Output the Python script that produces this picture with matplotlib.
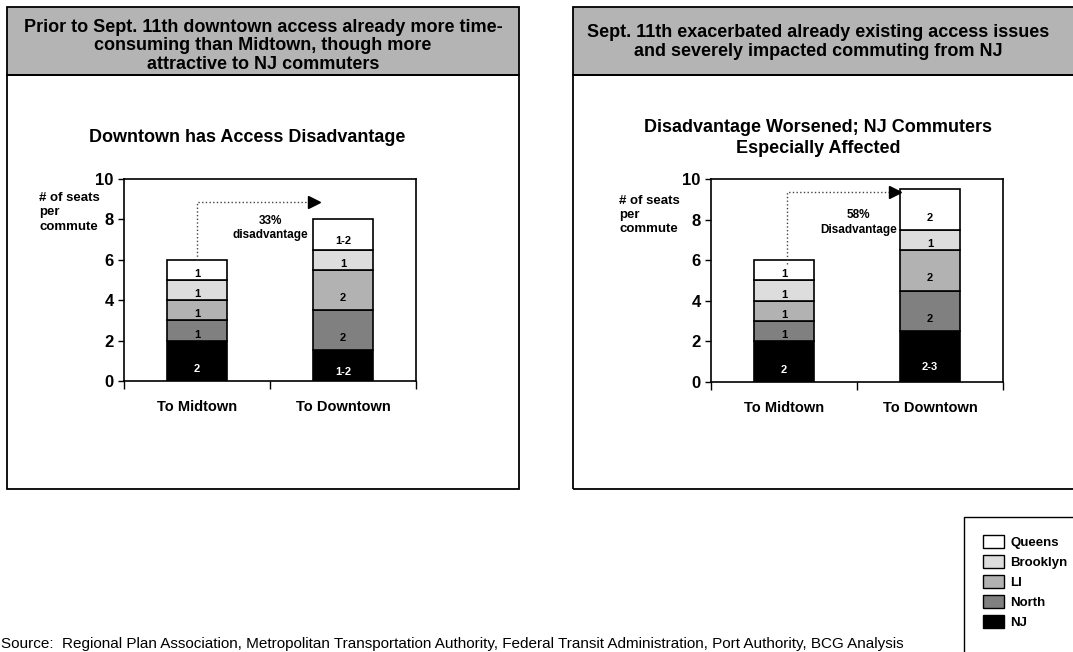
import matplotlib.pyplot as plt
from matplotlib.patches import Rectangle, Patch

plt.rcParams['font.family'] = ['Liberation Sans', 'DejaVu Sans']
plt.rcParams['font.weight'] = 'bold'

W, H = 1073, 652

# data (bottom -> top of stack)
regions = ['NJ', 'North', 'LI', 'Brooklyn', 'Queens']
colors = ['#000000', '#808080', '#b2b2b2', '#dddddd', '#ffffff']
categories = ['To Midtown', 'To Downtown']

before_mid = [2, 1, 1, 1, 1]
before_down = [1.55, 1.95, 2, 1, 1.5]
before_mid_labels = ['2', '1', '1', '1', '1']
before_down_labels = ['1-2', '2', '2', '1', '1-2']

after_mid = [2, 1, 1, 1, 1]
after_down = [2.5, 2, 2, 1, 2]
after_mid_labels = ['2', '1', '1', '1', '1']
after_down_labels = ['2-3', '2', '2', '1', '2']

headers = ["Prior to Sept. 11th downtown access already more time-\nconsuming than Midtown, though more\nattractive to NJ commuters",
           "Sept. 11th exacerbated already existing access issues\nand severely impacted commuting from NJ"]
chart_titles = ["Downtown has Access Disadvantage",
                "Disadvantage Worsened; NJ Commuters\nEspecially Affected"]
gap_text = ["33%\ndisadvantage", "58%\nDisadvantage"]


def fx(x):
    return x / W


def fy(y):
    return 1 - y / H


fig = plt.figure(figsize=(W / 100, H / 100), dpi=100)

# panel boxes with grey header bands
for x0, x1 in [(7, 519), (573, 1090)]:
    fig.patches.append(Rectangle((fx(x0), fy(75)), fx(x1 - x0), 68 / H, transform=fig.transFigure,
                                 facecolor='#b4b4b4', edgecolor='black', lw=1.3))
    fig.patches.append(Rectangle((fx(x0), fy(489)), fx(x1 - x0), 414 / H, transform=fig.transFigure,
                                 facecolor='none', edgecolor='black', lw=1.3))

fig.text(fx(263), fy(46), headers[0], ha='center', va='center', fontsize=13, linespacing=1.1)
fig.text(fx(818), fy(42), headers[1], ha='center', va='center', fontsize=13, linespacing=1.1)
fig.text(fx(247), fy(138), chart_titles[0], ha='center', va='center', fontsize=13)
fig.text(fx(818), fy(138), chart_titles[1], ha='center', va='center', fontsize=13, linespacing=1.3)


def draw_panel(rect, stacks, labels, ylab_xy, arrow, note):
    ax = fig.add_axes(rect)
    for ci, (vals, labs) in enumerate(zip(stacks, labels)):
        bottom = 0
        for k, v in enumerate(vals):
            ax.bar(ci, v, 0.41, bottom=bottom, color=colors[k], edgecolor='black', lw=1.2, zorder=2)
            ax.text(ci, bottom + 0.3 * v, labs[k], ha='center', va='center', fontsize=8,
                    color='white' if k == 0 else 'black', zorder=3)
            bottom += v
    ax.set_xlim(-0.5, 1.5)
    ax.set_ylim(0, 10)
    ax.set_yticks([0, 2, 4, 6, 8, 10])
    ax.tick_params(axis='y', labelsize=12, direction='out', length=4, width=1)
    ax.set_xticks([-0.5, 0.5, 1.5])
    ax.set_xticklabels([])
    ax.set_xticks([0, 1], minor=True)
    ax.set_xticklabels(categories, minor=True, fontsize=10.5)
    ax.tick_params(axis='x', which='major', direction='out', length=6, width=1)
    ax.tick_params(axis='x', which='minor', length=0, pad=14)
    for s in ax.spines.values():
        s.set_linewidth(1.2)
    # dotted arrow from Midtown top to Downtown
    x0, y0, y1, tip = arrow
    ax.plot([x0, x0, tip - 0.06], [y0, y1, y1], ls=':', color='#444444', lw=1, zorder=4)
    ax.plot(tip - 0.04, y1, marker='>', ms=9, color='black', zorder=4)
    ax.text(note[0], note[1], note[2], ha='center', va='center', fontsize=8.5, linespacing=1.3, zorder=4)
    fig.text(fx(ylab_xy[0]), fy(ylab_xy[1]), "# of seats\nper\ncommute", ha='left', va='top',
             fontsize=9.5, linespacing=1.25)
    return ax


draw_panel([fx(124), fy(381), 292 / W, 202 / H], [before_mid, before_down],
           [before_mid_labels, before_down_labels], (39, 192), (0, 6, 8.86, 0.84),
           (0.5, 7.57, gap_text[0]))
draw_panel([fx(711), fy(382), 292 / W, 203 / H], [after_mid, after_down],
           [after_mid_labels, after_down_labels], (619, 195), (0.02, 5.8, 9.37, 0.8),
           (0.51, 7.86, gap_text[1]))

# legend box
fig.patches.append(Rectangle((fx(964), fy(700)), fx(200), 183 / H, transform=fig.transFigure,
                             facecolor='white', edgecolor='black', lw=1))
handles = [Patch(facecolor=colors[k], edgecolor='black', lw=1) for k in range(4, -1, -1)]
fig.legend(handles, regions[::-1], loc='upper left', bbox_to_anchor=(fx(983), fy(535)),
           frameon=False, fontsize=9.5, handlelength=1.6, handleheight=1.15, labelspacing=0.45,
           handletextpad=0.45, borderpad=0, borderaxespad=0)

fig.text(fx(1), fy(651), "Source:  Regional Plan Association, Metropolitan Transportation Authority, "
         "Federal Transit Administration, Port Authority, BCG Analysis",
         ha='left', va='bottom', fontsize=11, fontweight='normal')

fig.savefig('out.png', dpi=100)
